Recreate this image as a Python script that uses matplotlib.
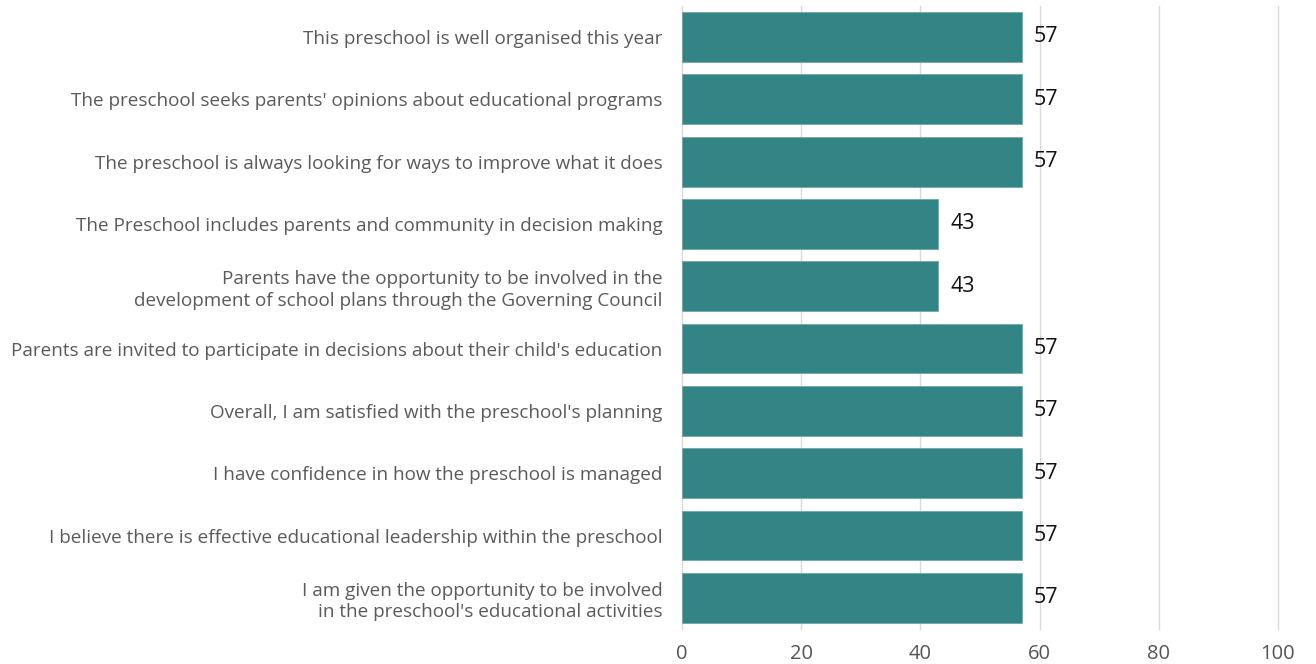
import matplotlib
matplotlib.use("Agg")
import matplotlib.pyplot as plt

labels = [
    "This preschool is well organised this year",
    "The preschool seeks parents' opinions about educational programs",
    "The preschool is always looking for ways to improve what it does",
    "The Preschool includes parents and community in decision making",
    "Parents have the opportunity to be involved in the\ndevelopment of school plans through the Governing Council",
    "Parents are invited to participate in decisions about their child's education",
    "Overall, I am satisfied with the preschool's planning",
    "I have confidence in how the preschool is managed",
    "I believe there is effective educational leadership within the preschool",
    "I am given the opportunity to be involved\nin the preschool's educational activities",
]
values = [57, 57, 57, 43, 43, 57, 57, 57, 57, 57]
xticks = [0, 20, 40, 60, 80, 100]

plt.rcParams['font.family'] = ['Open Sans', 'DejaVu Sans']

fig = plt.figure(figsize=(13.16, 6.64), dpi=100)
ax = fig.add_axes([0.5182, 0.0527, 0.4529, 0.9386])

ypos = list(range(len(values)))
ax.barh(ypos, values, height=0.8, color="#338484", edgecolor="#6fa8a8", linewidth=0.6, zorder=3)
for y, v in zip(ypos, values):
    ax.text(v + 2.0, y, str(v), va="center", ha="left", fontsize=15.5, color="#111111")

ax.set_ylim(len(values) - 0.5, -0.5)
ax.set_xlim(0, 100)
ax.set_xticks(xticks)
ax.set_xticklabels([str(t) for t in xticks], fontsize=14.5, color="#555555")
ax.set_yticks(ypos)
ax.set_yticklabels(labels, fontsize=13.6, color="#5a5a5a", linespacing=1.25)
ax.tick_params(axis="both", length=0)
ax.tick_params(axis="y", pad=14)
ax.tick_params(axis="x", pad=11)
ax.grid(axis="x", color="#d9d9d9", linewidth=1, zorder=0)
# keep the gridline at 100 from being clipped at the axes edge
for gl in ax.get_xgridlines():
    gl.set_clip_on(False)
for s in ax.spines.values():
    s.set_visible(False)

fig.savefig("out.png", dpi=100)
